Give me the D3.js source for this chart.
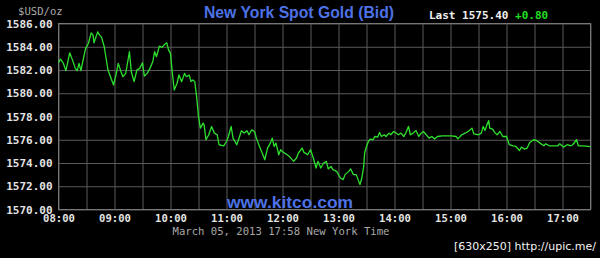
<!DOCTYPE html>
<html>
<head>
<meta charset="utf-8">
<script src="https://cdn.jsdelivr.net/npm/d3@7"></script>
<style>
  body { margin: 0; background: #000; }
  svg { display: block; }
</style>
</head>
<body>
<script>
// spot gold bid, March 05 2013
var times = [
  "08:00", "08:02", "08:05", "08:08", "08:12", "08:15", "08:18", "08:20", "08:22", "08:24",
  "08:26", "08:29", "08:32", "08:35", "08:37", "08:38", "08:42", "08:44", "08:46", "08:49",
  "08:53", "08:55", "08:59", "09:02", "09:04", "09:07", "09:09", "09:12", "09:16", "09:18",
  "09:21", "09:24", "09:27", "09:30", "09:32", "09:35", "09:38", "09:41", "09:43", "09:45",
  "09:48", "09:51", "09:54", "09:56", "09:58", "10:00", "10:02", "10:04", "10:07", "10:09",
  "10:12", "10:15", "10:17", "10:20", "10:22", "10:24", "10:26", "10:28", "10:30", "10:32",
  "10:35", "10:36", "10:38", "10:41", "10:44", "10:47", "10:50", "10:52", "10:57", "11:00",
  "11:02", "11:05", "11:07", "11:11", "11:14", "11:16", "11:19", "11:22", "11:24", "11:27",
  "11:30", "11:32", "11:36", "11:39", "11:41", "11:44", "11:47", "11:49", "11:51", "11:53",
  "11:56", "11:58", "12:01", "12:05", "12:08", "12:12", "12:15", "12:17", "12:21", "12:23",
  "12:27", "12:30", "12:33", "12:36", "12:38", "12:41", "12:44", "12:47", "12:49", "12:52",
  "12:54", "12:58", "13:02", "13:05", "13:07", "13:11", "13:13", "13:16", "13:19", "13:21",
  "13:23", "13:25", "13:27", "13:28", "13:30", "13:32", "13:34", "13:37", "13:39", "13:42",
  "13:44", "13:46", "13:49", "13:51", "13:54", "13:56", "13:59", "14:02", "14:04", "14:07",
  "14:10", "14:12", "14:15", "14:17", "14:20", "14:23", "14:26", "14:28", "14:31", "14:35",
  "14:37", "14:40", "14:43", "14:46", "14:51", "14:56", "15:01", "15:06", "15:08", "15:12",
  "15:14", "15:19", "15:23", "15:25", "15:30", "15:33", "15:35", "15:37", "15:39", "15:41",
  "15:42", "15:45", "15:48", "15:50", "15:53", "15:56", "16:00", "16:03", "16:07", "16:10",
  "16:14", "16:16", "16:19", "16:22", "16:25", "16:29", "16:32", "16:36", "16:40", "16:42",
  "16:46", "16:50", "16:55", "16:57", "17:01", "17:05", "17:09", "17:11", "17:15", "17:17",
  "17:22", "17:30"
];

var bids = [
  1582.62, 1582.94, 1582.62, 1581.94, 1583.48, 1582.85, 1582.14, 1581.94, 1582.57, 1581.94,
  1582.71, 1583.86, 1584.28, 1585.19, 1585.00, 1584.34, 1585.28, 1585.00, 1584.85, 1584.00,
  1582.00, 1581.57, 1580.71, 1581.71, 1582.57, 1581.85, 1581.42, 1581.71, 1583.57, 1581.85,
  1581.00, 1582.00, 1582.14, 1582.62, 1581.48, 1581.71, 1582.14, 1582.71, 1583.57, 1583.14,
  1584.05, 1583.94, 1584.22, 1584.34, 1583.71, 1583.43, 1581.71, 1580.28, 1580.86, 1581.57,
  1581.00, 1581.71, 1581.42, 1581.57, 1581.00, 1581.14, 1581.00, 1579.71, 1578.00, 1577.00,
  1577.43, 1577.28, 1576.00, 1576.43, 1577.14, 1576.57, 1576.43, 1575.57, 1575.48, 1575.85,
  1576.28, 1577.14, 1576.14, 1575.57, 1576.28, 1576.77, 1576.57, 1576.77, 1576.43, 1576.85,
  1576.71, 1576.14, 1575.28, 1574.71, 1574.28, 1575.28, 1575.71, 1576.14, 1575.43, 1575.71,
  1574.71, 1575.14, 1574.91, 1574.71, 1574.51, 1574.14, 1574.43, 1574.86, 1575.28, 1574.91,
  1574.71, 1575.14, 1574.43, 1573.57, 1574.14, 1573.57, 1574.00, 1574.14, 1573.49, 1573.71,
  1573.43, 1573.28, 1572.71, 1572.57, 1573.00, 1573.28, 1573.49, 1573.00, 1573.00, 1572.57,
  1572.14, 1572.71, 1573.71, 1574.86, 1575.42, 1575.85, 1576.06, 1576.00, 1576.28, 1576.23,
  1576.62, 1576.28, 1576.43, 1576.28, 1576.57, 1576.43, 1576.71, 1576.57, 1576.43, 1576.57,
  1576.28, 1576.57, 1577.14, 1576.43, 1576.57, 1576.79, 1576.28, 1576.51, 1576.71, 1576.34,
  1576.14, 1576.28, 1576.06, 1576.28, 1576.34, 1576.34, 1576.34, 1576.28, 1576.08, 1576.43,
  1576.50, 1576.71, 1577.00, 1576.51, 1576.43, 1576.57, 1577.14, 1576.79, 1577.28, 1577.65,
  1577.00, 1576.92, 1576.57, 1576.43, 1576.71, 1576.28, 1576.28, 1575.57, 1575.48, 1575.42,
  1575.08, 1575.37, 1575.20, 1575.28, 1575.77, 1576.00, 1575.94, 1575.71, 1575.48, 1575.65,
  1575.48, 1575.48, 1575.48, 1575.65, 1575.37, 1575.57, 1575.48, 1575.57, 1576.00, 1575.48,
  1575.48, 1575.40
];

var hourLabels = ["08:00", "09:00", "10:00", "11:00", "12:00", "13:00", "14:00", "15:00", "16:00", "17:00"];
var priceTicks = [1570, 1572, 1574, 1576, 1578, 1580, 1582, 1584, 1586];
var timeDomain = ["08:00", "17:30"];

var lastPrice = "1575.40";
var change = "+0.80";

var W = 600, H = 258;
var mono = "'DejaVu Sans Mono', monospace";
var sans = "'Liberation Sans', Arial, sans-serif";

var svg = d3.select("body").append("svg")
  .attr("width", W)
  .attr("height", H)
  .style("background", "#000");

var plotL = 58.5, plotR = 590.5, plotT = 23.5, plotB = 209.5;

var parse = d3.timeParse("%H:%M");
var fmtHM = d3.timeFormat("%H:%M");

var x = d3.scaleTime()
  .domain(timeDomain.map(parse))
  .range([plotL, plotR]);

var y = d3.scaleLinear()
  .domain([1570, 1586])
  .range([plotB, plotT]);

var data = times.map(function (t, i) { return { t: parse(t), v: bids[i] }; });

// grid every half hour, labels on the hour
var halfHours = d3.timeMinute.every(30).range(x.domain()[0], d3.timeMinute.offset(x.domain()[1], 1));

svg.append("g")
  .attr("transform", "translate(0," + plotB + ")")
  .call(d3.axisBottom(x).tickValues(halfHours).tickSize(-(plotB - plotT)).tickFormat(""))
  .call(function (g) {
    g.select(".domain").remove();
    g.selectAll("line").attr("stroke", "#5a5a5a");
  });

svg.append("g")
  .attr("transform", "translate(" + plotL + ",0)")
  .call(d3.axisLeft(y).tickValues(priceTicks).tickSize(-(plotR - plotL)).tickFormat(""))
  .call(function (g) {
    g.select(".domain").remove();
    g.selectAll("line").attr("stroke", "#5a5a5a");
  });

// plot frame
svg.append("rect")
  .attr("x", plotL)
  .attr("y", plotT)
  .attr("width", plotR - plotL)
  .attr("height", plotB - plotT)
  .attr("fill", "none")
  .attr("stroke", "#777");

// y labels
svg.append("g")
  .attr("transform", "translate(" + plotL + ",0)")
  .call(d3.axisLeft(y).tickValues(priceTicks).tickSize(0).tickPadding(6).tickFormat(d3.format(".2f")))
  .call(function (g) {
    g.select(".domain").remove();
    g.selectAll("text")
      .attr("fill", "#e4e4e4")
      .style("font-family", mono)
      .style("font-weight", "bold")
      .style("font-size", "11px");
  });

// x labels
svg.append("g")
  .attr("transform", "translate(0," + plotB + ")")
  .call(d3.axisBottom(x).tickValues(hourLabels.map(parse)).tickSize(0).tickPadding(5).tickFormat(fmtHM))
  .call(function (g) {
    g.select(".domain").remove();
    g.selectAll("text")
      .attr("fill", "#e4e4e4")
      .style("font-family", mono)
      .style("font-weight", "bold")
      .style("font-size", "10.6px");
  });

var line = d3.line()
  .x(function (d) { return x(d.t); })
  .y(function (d) { return y(d.v); });

svg.append("path")
  .datum(data)
  .attr("d", line)
  .attr("fill", "none")
  .attr("stroke", "#2ee02e")
  .attr("stroke-width", 1.3)
  .attr("stroke-linejoin", "round");

// texts
svg.append("text")
  .attr("x", 18)
  .attr("y", 15)
  .attr("fill", "#aaa")
  .style("font-family", mono)
  .style("font-size", "10.6px")
  .text("$USD/oz");

svg.append("text")
  .attr("x", 204)
  .attr("y", 18)
  .attr("textLength", 190)
  .attr("lengthAdjust", "spacingAndGlyphs")
  .attr("fill", "#4d72e6")
  .style("font-family", sans)
  .style("font-weight", "bold")
  .style("font-size", "17px")
  .text("New York Spot Gold (Bid)");

var last = svg.append("text")
  .attr("x", 429)
  .attr("y", 19)
  .style("font-family", mono)
  .style("font-weight", "bold")
  .style("font-size", "11px");
last.append("tspan").attr("fill", "#f0f0f0").text("Last " + lastPrice + " ");
last.append("tspan").attr("fill", "#22dd22").text(change);

svg.append("text")
  .attr("x", 227)
  .attr("y", 208)
  .attr("textLength", 126)
  .attr("lengthAdjust", "spacingAndGlyphs")
  .attr("fill", "#4d72e6")
  .style("font-family", sans)
  .style("font-weight", "bold")
  .style("font-size", "17px")
  .text("www.kitco.com");

svg.append("text")
  .attr("x", 281)
  .attr("y", 235)
  .attr("text-anchor", "middle")
  .attr("fill", "#a8a8a8")
  .style("font-family", mono)
  .style("font-size", "10.6px")
  .text("March 05, 2013 17:58 New York Time");

svg.append("text")
  .attr("x", 596)
  .attr("y", 250)
  .attr("text-anchor", "end")
  .attr("fill", "#f4f4f4")
  .style("font-family", "'DejaVu Sans', sans-serif")
  .style("font-size", "11px")
  .text("[630x250] http://upic.me/");
</script>
</body>
</html>
